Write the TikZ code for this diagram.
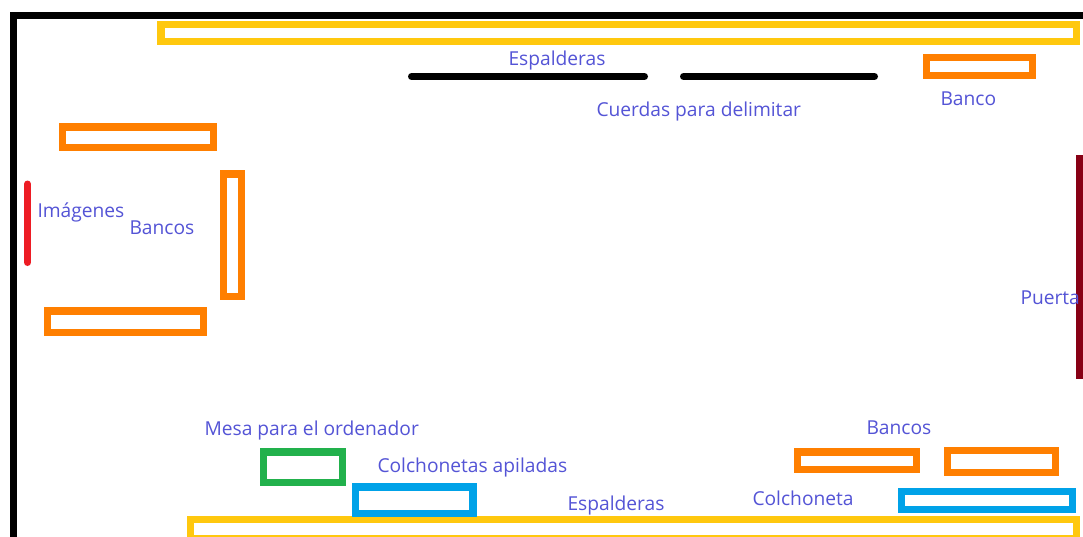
\documentclass[tikz,border=0pt]{standalone}
\usepackage{fontspec}
\setmainfont{Open Sans}
\definecolor{wallc}{RGB}{0,0,0}
\definecolor{yellowc}{RGB}{255,200,14}
\definecolor{orangec}{RGB}{255,127,0}
\definecolor{greenc}{RGB}{34,177,76}
\definecolor{bluec}{RGB}{0,162,232}
\definecolor{redc}{RGB}{237,28,36}
\definecolor{doorc}{RGB}{136,0,21}
\definecolor{labelc}{RGB}{84,84,214}
\tikzset{
  box/.style={draw=#1,line width=7.4pt,miter limit=10,fill=none},
  bar/.style={draw=#1,line width=7pt,line cap=round},
  lab/.style={anchor=base west,inner sep=0pt,outer sep=0pt,text=labelc,font=\fontsize{19.2pt}{22pt}\selectfont}
}
\begin{document}
\begin{tikzpicture}[x=1pt,y=-1pt]
\useasboundingbox (0,0) rectangle (1083,536);
\clip (0,0) rectangle (1083,536);
\fill[white] (0,0) rectangle (1083,536);
% walls
\draw[wallc,line width=7pt,miter limit=10] (1090,15.5) -- (13.5,15.5) -- (13.5,545);
% wall bars
\draw[box=yellowc] (161,24.4) rectangle (1076.3,41.3);
\draw[box=yellowc] (190.4,519.4) rectangle (1076.3,538.7);
% benches
\draw[box=orangec] (926.7,57.7) rectangle (1032.3,75.3);
\draw[box=orangec] (62.7,127) rectangle (213.3,147.3);
\draw[box=orangec] (223.7,174) rectangle (241.3,296.3);
\draw[box=orangec] (47.7,311) rectangle (203.3,332.3);
\draw[box=orangec] (797.7,451.9) rectangle (916.3,469.4);
\draw[box=orangec] (947.4,450.4) rectangle (1055.6,472.3);
% table and mats
\draw[box=greenc] (263.7,452) rectangle (342.7,482.6);
\draw[box=bluec] (355.7,487) rectangle (473,513.3);
\draw[box=bluec] (901.7,491.7) rectangle (1072.3,509.3);
% ropes, images, door
\draw[bar=wallc] (411.5,76.5) -- (644.5,76.5);
\draw[bar=wallc] (683.5,76.5) -- (874.5,76.5);
\draw[bar=redc] (27.5,184) -- (27.5,262.5);
\fill[doorc] (1076,155) rectangle (1083,379);
% labels
\node[lab] (l1) at (508.5,65) {Espalderas};
\node[lab] (l2) at (596.5,116) {Cuerdas para delimitar};
\node[lab] (l3) at (940.5,105) {Banco};
\node[lab] (l4) at (37.5,217) {Imágenes};
\node[lab] (l5) at (129.5,234) {Bancos};
\node[lab] (l6) at (1020.5,304) {Puerta};
\node[lab] (l7) at (204.5,435) {Mesa para el ordenador};
\node[lab] (l8) at (377.5,472) {Colchonetas apiladas};
\node[lab] (l9) at (567.5,510) {Espalderas};
\node[lab] (l10) at (752.5,505) {Colchoneta};
\node[lab] (l11) at (866.5,434) {Bancos};
\end{tikzpicture}
\end{document}
